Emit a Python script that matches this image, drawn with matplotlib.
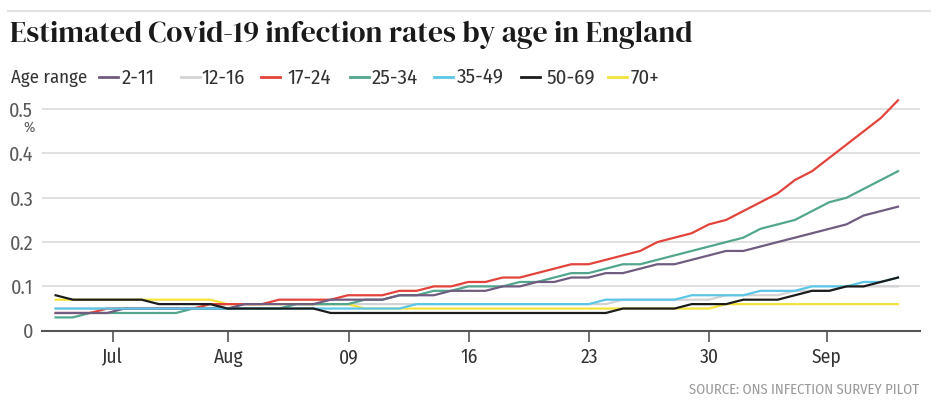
import matplotlib
matplotlib.use("Agg")
import matplotlib.pyplot as plt
from matplotlib.lines import Line2D
import numpy as np

# daily estimates, 50 days (index 0 = first day shown)
days = np.arange(50)

age_groups = ["2-11", "12-16", "17-24", "25-34", "35-49", "50-69", "70+"]

rate_2_11 = [0.04] * 4 + [0.05] * 7 + [0.06] * 5 + [0.07] * 4 + [0.08] * 3 + [0.09] * 3 + \
    [0.10] * 2 + [0.11] * 2 + [0.12] * 2 + [0.13] * 2 + \
    [0.14, 0.15, 0.15, 0.16, 0.17, 0.18, 0.18, 0.19, 0.20, 0.21, 0.22, 0.23, 0.24, 0.26, 0.27, 0.28]
rate_12_16 = [0.05] * 10 + [0.06] * 23 + [0.07] * 6 + [0.08] * 4 + [0.09] * 3 + [0.10] * 4
rate_17_24 = [0.04] * 3 + [0.05] * 6 + [0.06] * 4 + [0.07] * 4 + [0.08] * 3 + [0.09] * 2 + \
    [0.10] * 2 + [0.11] * 2 + [0.12] * 2 + \
    [0.13, 0.14, 0.15, 0.15, 0.16, 0.17, 0.18, 0.20, 0.21, 0.22, 0.24, 0.25, 0.27, 0.29,
     0.31, 0.34, 0.36, 0.39, 0.42, 0.45, 0.48, 0.52]
rate_25_34 = [0.03] * 2 + [0.04] * 6 + [0.05] * 6 + [0.06] * 4 + [0.07] * 2 + [0.08] * 2 + \
    [0.09] * 2 + [0.10] * 3 + [0.11] * 2 + [0.12] + [0.13] * 2 + [0.14] + [0.15] * 2 + \
    [0.16, 0.17, 0.18, 0.19, 0.20, 0.21, 0.23, 0.24, 0.25, 0.27, 0.29, 0.30, 0.32, 0.34, 0.36]
rate_35_49 = [0.05] * 21 + [0.06] * 11 + [0.07] * 5 + [0.08] * 4 + [0.09] * 3 + [0.10] * 3 + \
    [0.11] * 2 + [0.12]
rate_50_69 = [0.08] + [0.07] * 5 + [0.06] * 4 + [0.05] * 6 + [0.04] * 17 + [0.05] * 4 + \
    [0.06] * 3 + [0.07] * 3 + [0.08] + [0.09] * 2 + [0.10] * 2 + [0.11] + [0.12]
rate_70_plus = [0.07] * 10 + [0.06] * 8 + [0.05] * 21 + [0.06] * 11

series = [rate_2_11, rate_12_16, rate_17_24, rate_25_34, rate_35_49, rate_50_69, rate_70_plus]
colors = ["#6f5c80", "#d3d3d6", "#e2443b", "#52a68d", "#5cc6e8", "#1c1c1c", "#f4e33c"]
zorders = [2.4, 2.0, 2.3, 2.2, 2.5, 2.6, 2.1]

tick_pos = [3.32, 10.04, 17.04, 24.07, 31.04, 38.02, 44.86]
tick_labels = ["Jul", "Aug", "09", "16", "23", "30", "Sep"]
y_ticks = [0, 0.1, 0.2, 0.3, 0.4, 0.5]
y_labels = ["0", "0.1", "0.2", "0.3", "0.4", "0.5"]

W, H = 942, 408
narrow = ["Fira Sans Condensed", "Roboto Condensed", "Archivo Narrow", "DejaVu Sans"]
serif = ["DM Serif Display", "Liberation Serif", "DejaVu Serif"]


def fx(px):
    return px / W


def fy(py):
    return 1 - py / H


fig = plt.figure(figsize=(W / 100, H / 100), dpi=100)
fig.patch.set_facecolor("white")

ax = fig.add_axes([fx(41.7), fy(330.7), fx(920) - fx(41.7), fy(95.9) - fy(330.7)])
for vals, col, z, name in zip(series, colors, zorders, age_groups):
    ax.plot(days, vals, color=col, lw=1.6, zorder=z, label=name,
            solid_joinstyle="round", clip_on=False)

ax.set_xlim(-0.81, 50.28)
ax.set_ylim(0, 0.53)
ax.set_yticks(y_ticks)
ax.set_yticklabels(y_labels, family=narrow, fontsize=14.5, color="#5a5a5a")
ax.set_xticks(tick_pos)
ax.set_xticklabels(tick_labels, family=narrow, fontsize=14, color="#333333")
ax.tick_params(axis="y", length=0, pad=6)
ax.tick_params(axis="x", length=8, width=1.2, color="#555555", pad=4)
ax.grid(axis="y", color="#dcdcdc", lw=1.2, zorder=1)
for s in ["top", "right", "left"]:
    ax.spines[s].set_visible(False)
ax.spines["bottom"].set_color("#555555")
ax.spines["bottom"].set_linewidth(1.5)
ax.spines["bottom"].set_zorder(3)

fig.text(fx(29), fy(128), "%", family=narrow, fontsize=11, color="#5a5a5a",
         ha="center", va="center")

# top rule and title (font size fitted to the reference title width)
fig.add_artist(Line2D([fx(8), fx(930)], [fy(11), fy(11)], color="#e2e2e2", lw=1.5))
title = fig.text(fx(10), fy(42), "Estimated Covid-19 infection rates by age in England",
                 family=serif, fontsize=22, color="#1a1a1a", ha="left", va="baseline")
renderer = fig.canvas.get_renderer()
tw = title.get_window_extent(renderer).width
title.set_fontsize(22 * 680 / tw)

# legend row
fig.text(fx(11), fy(83), "Age range", family=narrow, fontsize=13.5, color="#333333",
         ha="left", va="baseline")
dash_x = [99, 181, 261, 350, 434, 521, 608]
label_x = [122, 201, 287, 372, 457, 546, 631]
for name, col, dx, lx in zip(age_groups, colors, dash_x, label_x):
    fig.add_artist(Line2D([fx(dx), fx(dx + 19)], [fy(77), fy(77)], color=col, lw=2))
    fig.text(fx(lx), fy(83.5), name, family=narrow, fontsize=15, color="#333333",
             ha="left", va="baseline")

fig.text(fx(919), fy(394), "SOURCE: ONS INFECTION SURVEY PILOT", family=narrow,
         fontsize=10.5, color="#9a9a9a", ha="right", va="baseline")

fig.savefig("out.png", dpi=100, facecolor="white")
